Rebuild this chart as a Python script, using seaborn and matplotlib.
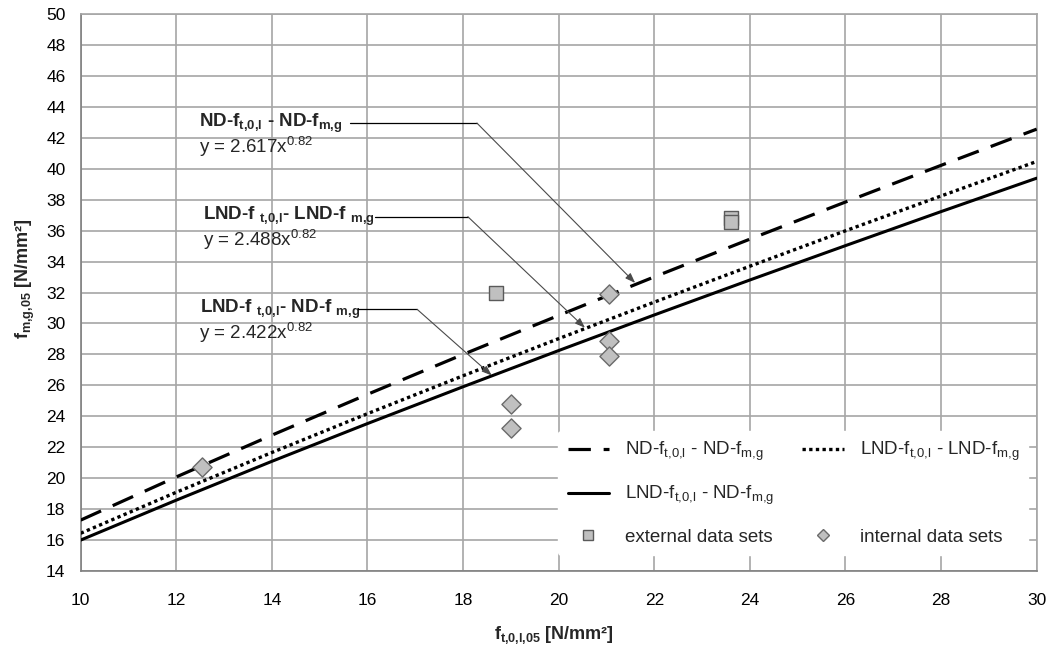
import matplotlib
matplotlib.use("Agg")
import matplotlib.pyplot as plt
from matplotlib.lines import Line2D
from matplotlib.legend_handler import HandlerLine2D
import numpy as np
import seaborn as sns
import pandas as pd

# ---- data ----
x_fit = [10, 12, 14, 16, 18, 20, 22, 24, 26, 28, 30]
y_nd_nd = [17.29, 20.08, 22.78, 25.42, 28.00, 30.52, 33.01, 35.45, 37.85, 40.22, 42.56]
y_lnd_lnd = [16.44, 19.09, 21.66, 24.17, 26.62, 29.02, 31.38, 33.70, 35.99, 38.24, 40.47]
y_lnd_nd = [16.00, 18.58, 21.09, 23.53, 25.91, 28.25, 30.55, 32.81, 35.03, 37.23, 39.39]

ext_x = [18.68, 23.6, 23.6]
ext_y = [31.98, 36.8, 36.55]
int_x = [12.53, 19.0, 19.0, 21.05, 21.05, 21.05]
int_y = [20.74, 24.77, 23.22, 31.9, 28.85, 27.9]

series_labels = ["ND-f$_{t{,}0{,}l}$ - ND-f$_{m{,}g}$",
                 "LND-f$_{t{,}0{,}l}$ - LND-f$_{m{,}g}$",
                 "LND-f$_{t{,}0{,}l}$ - ND-f$_{m{,}g}$"]
annot_titles = [r"ND-f$_{\mathbf{t{,}0{,}l}}$ - ND-f$_{\mathbf{m{,}g}}$",
                r"LND-f $_{\mathbf{t{,}0{,}l}}$- LND-f $_{\mathbf{m{,}g}}$",
                r"LND-f $_{\mathbf{t{,}0{,}l}}$- ND-f $_{\mathbf{m{,}g}}$"]
annot_eqs = ["y = 2.617x$^{0.82}$", "y = 2.488x$^{0.82}$", "y = 2.422x$^{0.82}$"]
x_ticks = [10, 12, 14, 16, 18, 20, 22, 24, 26, 28, 30]
y_ticks = list(range(14, 51, 2))

# annotation anchors (data coords)
annot_text_xy = [(12.48, 42.95), (12.56, 36.9), (12.5, 30.91)]
annot_eq_xy = [(12.48, 41.42), (12.56, 35.39), (12.48, 29.38)]
annot_hline = [(15.63, 18.29, 42.95), (16.16, 18.10, 36.9), (15.80, 17.04, 30.91)]
annot_tip = [(21.6, 32.62), (20.55, 29.72), (18.6, 26.64)]

# ---- style ----
sns.set_style("white")
plt.rcParams["font.family"] = ["Liberation Sans", "DejaVu Sans"]
plt.rcParams["mathtext.fontset"] = "custom"
plt.rcParams["mathtext.rm"] = "Liberation Sans"
plt.rcParams["mathtext.it"] = "Liberation Sans:italic"
plt.rcParams["mathtext.bf"] = "Liberation Sans:bold"
plt.rcParams["mathtext.default"] = "rm"

fig = plt.figure(figsize=(10.56, 6.55), dpi=100)
ax = fig.add_axes([0.0764, 0.1282, 0.9053, 0.8504])

grid_c = "#a6a6a6"
dash_nd = (0, (7.0, 4.0))
dot_lnd = (0, (1, 1.0))
df = pd.DataFrame({"x": x_fit, "nd": y_nd_nd, "lnd": y_lnd_lnd, "lndnd": y_lnd_nd})
sns.lineplot(data=df, x="x", y="nd", ax=ax, color="black", lw=2.3,
             linestyle=dash_nd, zorder=3)
sns.lineplot(data=df, x="x", y="lnd", ax=ax, color="black", lw=2.4,
             linestyle=dot_lnd, zorder=3)
sns.lineplot(data=df, x="x", y="lndnd", ax=ax, color="black", lw=2.2,
             linestyle="-", zorder=3)

sns.scatterplot(x=ext_x, y=ext_y, ax=ax, marker="s", s=90, color="#c0c0c0",
                edgecolor="#5a5a5a", linewidth=1.0, zorder=4)
sns.scatterplot(x=int_x, y=int_y, ax=ax, marker="D", s=95, color="#c0c0c0",
                edgecolor="#6a6a6a", linewidth=1.0, zorder=4)

ax.set_xlim(10, 30)
ax.set_ylim(14, 50)
ax.set_xticks(x_ticks)
ax.set_yticks(y_ticks)
ax.grid(True, color=grid_c, lw=1.2)
ax.set_axisbelow(True)
for s in ["top", "right"]:
    ax.spines[s].set_color(grid_c)
    ax.spines[s].set_linewidth(1.2)
for s in ["left", "bottom"]:
    ax.spines[s].set_color("#808080")
    ax.spines[s].set_linewidth(1.2)
ax.tick_params(axis="both", direction="out", length=5, width=1.1, color="#808080",
               labelsize=12.5, labelcolor="black")
ax.tick_params(axis="y", pad=6)
ax.tick_params(axis="x", pad=11)

ax.set_xlabel(r"f$_{\mathbf{t{,}0{,}l{,}05}}$ [N/mm²]", fontsize=13, fontweight="bold")
ax.set_ylabel(r"f$_{\mathbf{m{,}g{,}05}}$ [N/mm²]", fontsize=13, fontweight="bold")
ax.xaxis.set_label_coords(0.495, -0.095)
ax.yaxis.set_label_coords(-0.046, 0.525)

# annotations
for t, e, txy, exy, hl, tip in zip(annot_titles, annot_eqs, annot_text_xy,
                                    annot_eq_xy, annot_hline, annot_tip):
    ax.text(txy[0], txy[1], t, fontsize=13.5, fontweight="bold", va="center",
            ha="left", zorder=5)
    ax.text(exy[0], exy[1], e, fontsize=13.5, va="center", ha="left", zorder=5)
    ax.plot([hl[0], hl[1]], [hl[2], hl[2]], color="black", lw=0.9, zorder=5)
    ax.annotate("", xy=tip, xytext=(hl[1], hl[2]),
                arrowprops=dict(arrowstyle="-|>,head_length=0.6,head_width=0.22",
                                color="#4a4a4a", lw=0.8, shrinkA=0, shrinkB=0),
                zorder=5)


class RightMarkerHandler(HandlerLine2D):
    def get_xdata(self, legend, xdescent, ydescent, width, height, fontsize):
        xdata = np.array([-xdescent, -xdescent + width], float)
        return xdata, np.array([-xdescent + 0.82 * width])


# legend
h_nd = Line2D([], [], color="black", lw=2.3, linestyle=dash_nd)
h_lnd = Line2D([], [], color="black", lw=2.4, linestyle=dot_lnd)
h_lndnd = Line2D([], [], color="black", lw=2.2)
h_ext = Line2D([], [], marker="s", linestyle="none", markersize=7.5,
               markerfacecolor="#c0c0c0", markeredgecolor="#5a5a5a")
h_int = Line2D([], [], marker="D", linestyle="none", markersize=6.5,
               markerfacecolor="#c0c0c0", markeredgecolor="#6a6a6a")
h_blank = Line2D([], [], color="none")
handles = [h_nd, h_lndnd, h_ext, h_lnd, h_blank, h_int]
labels = [series_labels[0], series_labels[2], "external data sets",
          series_labels[1], series_labels[2], "internal data sets"]
leg = ax.legend(handles, labels, ncol=2, loc="lower left",
                bbox_to_anchor=(0.49, 0.012), fontsize=13.5, frameon=True,
                facecolor="white", edgecolor="white", framealpha=1,
                handlelength=2.2, handletextpad=0.85, columnspacing=1.5,
                labelspacing=1.12, borderpad=0.5,
                handler_map={h_ext: RightMarkerHandler(),
                             h_int: RightMarkerHandler()})
leg.get_texts()[4].set_alpha(0)  # empty slot placeholder
leg.set_zorder(6)

fig.savefig("out.png", dpi=100)
